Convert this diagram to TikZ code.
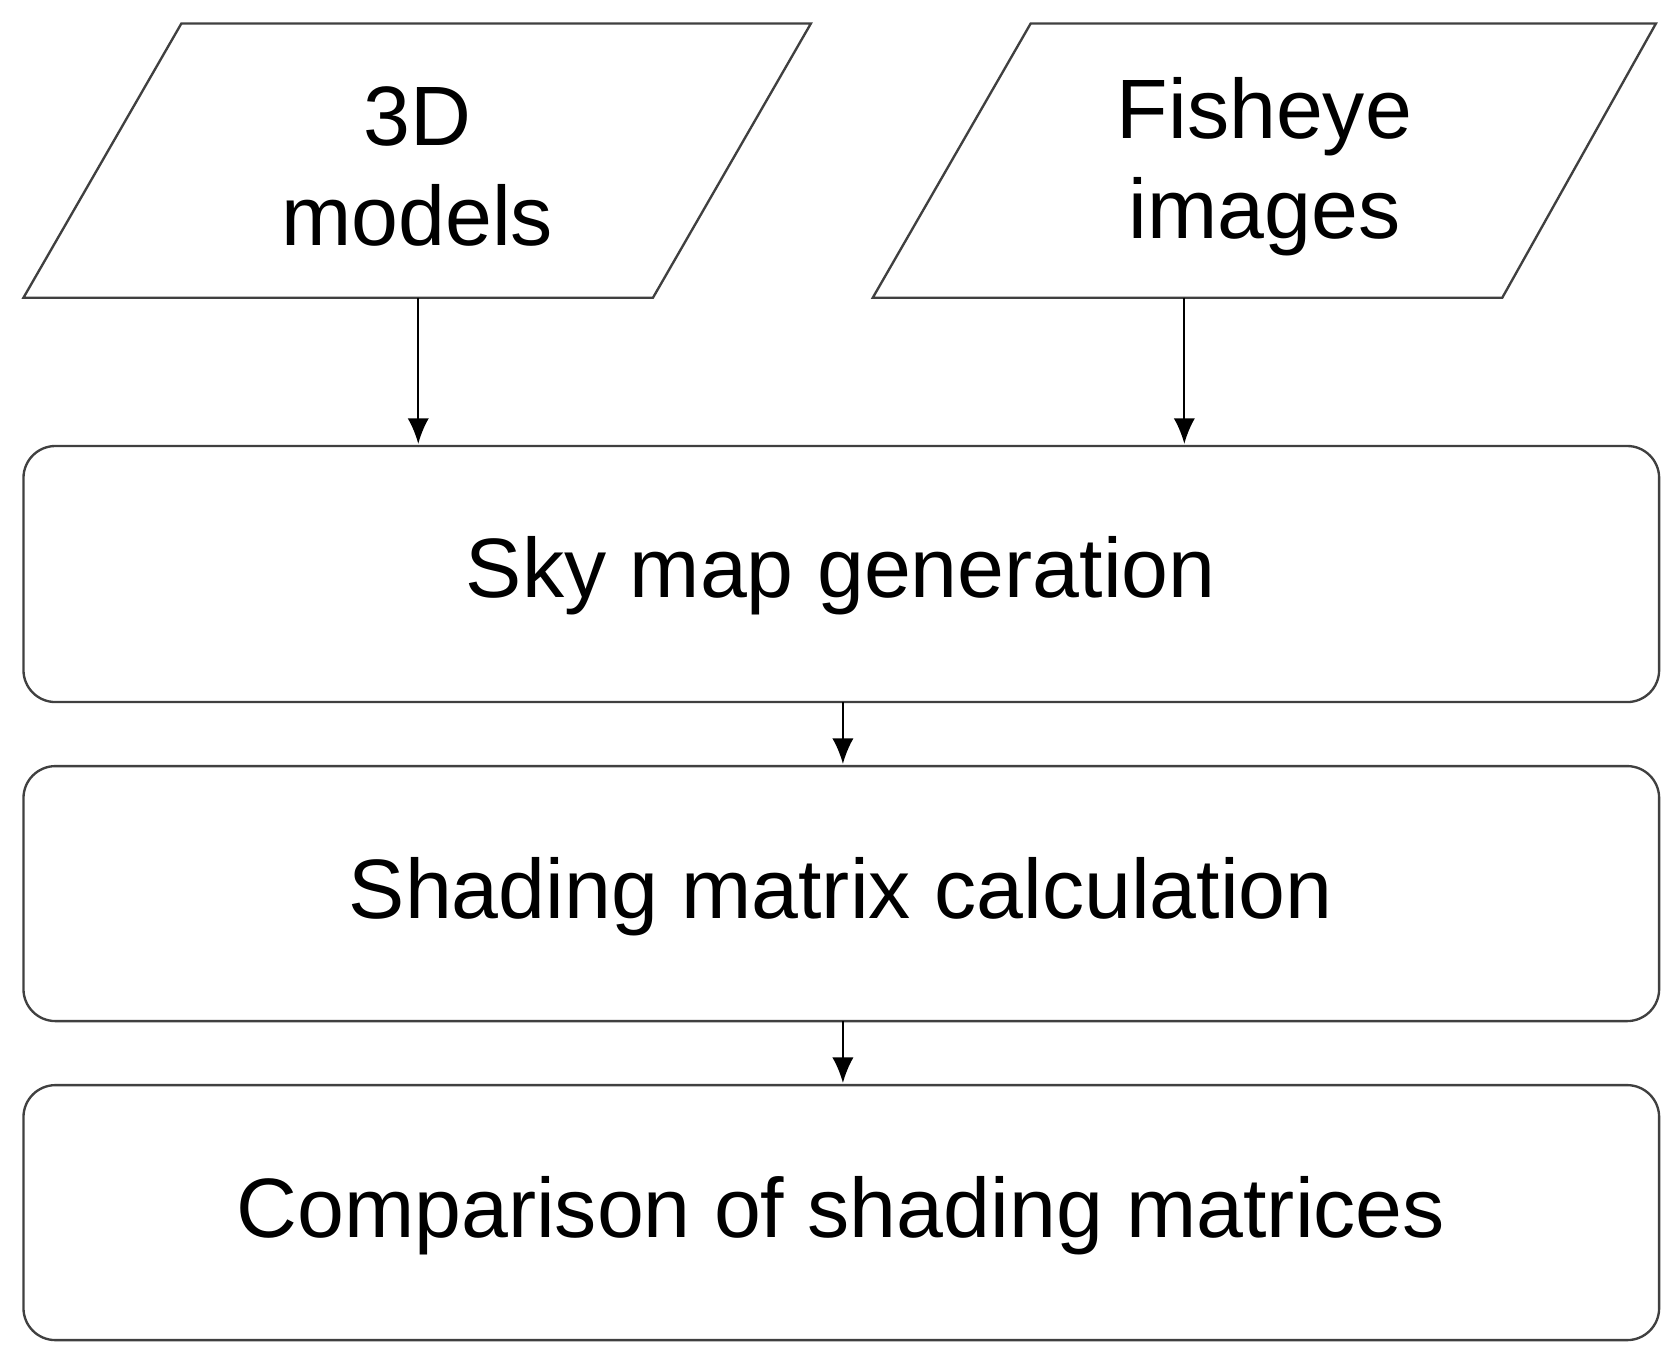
\documentclass[tikz,border=0pt]{standalone}
\usepackage{fontspec}
\setmainfont{Liberation Sans}
\usetikzlibrary{arrows.meta}
\begin{document}
\begin{tikzpicture}[x=1pt,y=-1pt,
  shp/.style={draw=black!75,line width=2.2pt,fill=white},
  lbl/.style={font=\fontsize{79}{94}\selectfont,align=center},
  arr/.style={-{Latex[length=24pt,width=20pt]},line width=2pt}]
\useasboundingbox (0,0) rectangle (1568,1277);
\draw[shp] (22,279) -- (170,22) -- (760,22) -- (612,279) -- cycle;
\draw[shp] (818,279) -- (966,22) -- (1552,22) -- (1408,279) -- cycle;
\node[lbl] (in1) at (391,156) {3D\\models};
\node[lbl] (in2) at (1185,156) {Fisheye\\images};
\coordinate (in1b) at (392,279);
\coordinate (in2b) at (1110,279);
\draw[shp,rounded corners=30] (22,418) rectangle (1555,658);
\draw[shp,rounded corners=30] (22,718) rectangle (1555,957);
\draw[shp,rounded corners=30] (22,1017) rectangle (1555,1256);
\node[lbl] (b1) at (788,540) {Sky map generation};
\node[lbl] (b2) at (788,840) {Shading matrix calculation};
\node[lbl] (b3) at (788,1139) {Comparison of shading matrices};
\coordinate (b1t1) at (392,416);
\coordinate (b1t2) at (1110,416);
\coordinate (b1b) at (790,658);
\coordinate (b2t) at (790,716);
\coordinate (b2b) at (790,957);
\coordinate (b3t) at (790,1015);
\draw[arr] (in1b) -- (b1t1);
\draw[arr] (in2b) -- (b1t2);
\draw[arr] (b1b) -- (b2t);
\draw[arr] (b2b) -- (b3t);
\end{tikzpicture}
\end{document}
